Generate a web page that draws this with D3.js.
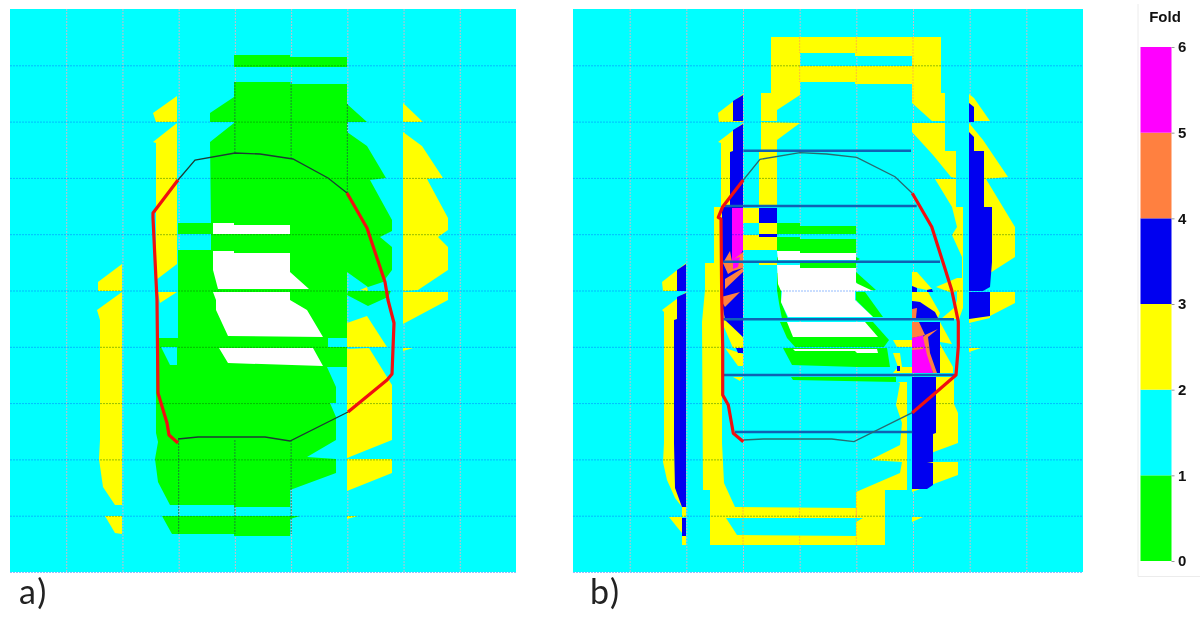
<!DOCTYPE html>
<html>
<head>
<meta charset="utf-8">
<script src="https://cdn.jsdelivr.net/npm/d3@7/dist/d3.min.js"></script>
<style>
html,body{margin:0;padding:0;background:#fff;}
svg{display:block;}
</style>
</head>
<body>
<svg id="c" width="1200" height="620"></svg>
<script>
// Fold classes for the colour bar
const foldValues = [0,1,2,3,4,5,6];
const foldNames = ["0-1","1-2","2-3","3-4","4-5","5-6"];
const foldTitle = "Fold";
const panelLabels = ["a)","b)"];

// ---------- Panel a: regions, in survey units along x / y of the panel ----------
const aGreen = [
 [[224,46],[280,46],[280,48],[337,48],[337,58],[224,58]],
 [[224,73],[280,73],[280,75],[337,75],[337,95],[357,113],[337,113],[337,123],[357,137],[376,169],[360,171],[382,211],[382,222],[370,228],[382,238],[382,261],[373,273],[358,278],[337,263],[337,329],[318,329],[318,338],[337,338],[337,358],[317,358],[326,378],[326,394],[320,394],[326,408],[326,431],[297,448],[326,450],[326,464],[280,481],[280,498],[224,498],[224,496],[160,496],[148,473],[145,450],[148,433],[146,424],[146,329],[168,329],[168,241],[201,241],[201,225],[168,225],[168,214],[201,214],[200,133],[224,114],[224,113],[200,113],[200,104],[224,88]],
 [[338,282],[381,282],[378,288],[358,297],[337,286]],
 [[152,507],[290,507],[280,510],[280,527],[224,527],[224,525],[162,525]]
];
const aCyan = [
 [[151,338],[167,338],[167,356],[160,356]]
];
const aWhite = [
 [[203,214],[224,214],[224,216],[280,216],[280,225],[203,225]],
 [[203,242],[224,242],[224,244],[280,244],[280,263],[299,280],[208,280],[203,261]],
 [[203,283],[280,283],[280,291],[297,301],[313,328],[218,327],[206,301],[206,291]],
 [[209,339],[303,339],[313,357],[282,356],[218,354]]
];
const aYellow = [
 [[112,255],[88,273],[88,282],[112,282]],
 [[112,283],[112,496],[105,496],[93,478],[89,450],[90,431],[90,311],[87,301]],
 [[95,507],[112,507],[112,525],[105,524]],
 [[167,87],[143,104],[146,113],[167,113]],
 [[167,114],[143,133],[146,134],[146,271],[167,255]],
 [[167,283],[148,283],[150,294]],
 [[393,94],[413,113],[393,113]],
 [[393,123],[412,137],[433,169],[417,170],[438,209],[438,221],[428,228],[438,238],[438,261],[408,281],[393,282]],
 [[393,283],[438,283],[438,291],[393,315]],
 [[393,339],[403,339],[393,342]],
 [[337,314],[357,307],[377,338],[337,338]],
 [[337,340],[359,339],[382,376],[382,431],[337,449]],
 [[337,450],[382,450],[382,464],[337,482]],
 [[337,507],[348,507],[337,510]],
 [[350,281],[357,278],[358,282]]
];
const aRed = [
 [[168,171],[143,204],[143,209],[146,271],[147,291],[148,384],[157,414],[159,426],[168,434]],
 [[338,403],[377,371],[382,365],[384,314],[378,291],[375,273],[370,258],[357,219],[337,184]]
];
const aDark = [
 [[168,430],[188,428],[255,428],[280,432],[338,403]],
 [[337,184],[318,169],[283,150],[250,145],[225,144],[185,151],[168,171]]
];
// segments of grid line that show dark over the green region: [gridIndex, from, to]
const aDarkGrid = [[4,73,144],[5,73,149],[6,95,184],[3,431,525],[4,431,525],[5,431,525]];

// ---------- Panel b ----------
const bYellow = [
 [[198,28],[227,28],[227,86],[204,101],[204,112],[188,112],[188,84],[198,84]],
 [[227,28],[339,28],[339,47],[282,47],[282,44],[227,44]],
 [[227,57],[339,57],[339,75],[282,75],[282,73],[227,73]],
 [[339,28],[368,28],[368,84],[372,84],[372,112],[359,112],[339,94]],
 [[188,113],[227,114],[204,131],[204,198],[186,198],[186,142],[188,141]],
 [[339,114],[372,114],[372,142],[383,142],[383,169],[378,168],[360,146],[339,123]],
 [[362,170],[383,170],[383,198],[390,198],[390,282],[384,282],[379,284],[363,278],[384,269],[389,269],[389,248],[379,226],[384,218],[379,198]],
 [[384,281],[390,281],[390,299],[386,310],[368,310],[382,298],[384,291]],
 [[339,263],[344,263],[359,280],[354,281],[344,279],[339,277]],
 [[339,283],[355,283],[367,304],[365,309],[347,293],[339,292]],
 [[367,313],[379,335],[367,333]],
 [[367,335],[380,358],[380,364],[367,364]],
 [[320,331],[339,331],[339,338],[324,338]],
 [[320,344],[327,344],[329,358],[339,358],[339,364],[320,364],[325,358]],
 [[339,368],[381,368],[381,395],[385,404],[385,434],[339,451]],
 [[339,453],[385,453],[385,466],[339,483]],
 [[339,508],[350,508],[339,513]],
 [[137,481],[130,481],[129,313],[132,281],[149,281],[149,434],[151,474],[162,498],[283,499],[283,483],[327,464],[329,453],[297,451],[327,436],[329,414],[323,396],[327,374],[325,373],[334,373],[334,481],[312,481],[312,536],[137,536]],
 [[141,198],[149,198],[149,282],[132,282],[132,254],[141,254]],
 [[170,85],[145,104],[146,113],[170,113]],
 [[170,114],[145,133],[148,134],[148,198],[170,198]],
 [[150,296],[157,311],[170,329],[170,339],[160,339],[151,318]],
 [[152,339],[170,345],[170,357],[165,357]],
 [[160,368],[170,368],[167,372]],
 [[170,199],[186,199],[186,214],[170,214]],
 [[186,214],[204,214],[204,225],[186,225]],
 [[170,226],[204,226],[204,241],[170,241]],
 [[186,254],[204,254],[204,256],[186,256]],
 [[113,254],[89,273],[90,282],[113,282]],
 [[113,283],[89,301],[91,303],[91,434],[90,453],[94,471],[102,489],[109,498],[113,498]],
 [[109,498],[113,498],[113,508],[109,508]],
 [[96,508],[109,508],[109,524],[104,518]],
 [[109,527],[113,527],[113,536],[109,536]],
 [[396,85],[401,89],[417,112],[396,112]],
 [[396,114],[410,131],[435,168],[413,170],[442,218],[442,248],[417,264],[410,282],[396,282]],
 [[396,283],[442,283],[442,294],[417,307],[417,309],[396,314]],
 [[396,339],[408,339],[396,343]]
];
const bCyan = [
 [[153,509],[290,509],[283,513],[283,527],[164,526]]
];
const bGreen = [
 [[204,214],[227,214],[227,217],[283,217],[283,225],[204,225]],
 [[204,228],[227,228],[227,230],[283,230],[283,244],[227,244],[227,242],[204,242]],
 [[227,254],[283,254],[283,260],[227,260]],
 [[204,264],[208,264],[208,281],[208,293],[215,310],[209,310],[206,294],[204,281]],
 [[283,263],[303,281],[290,282],[283,273]],
 [[283,283],[292,283],[310,308],[300,308],[283,291]],
 [[207,313],[300,313],[316,331],[311,338],[222,338],[214,329]],
 [[210,339],[314,339],[317,358],[284,358],[219,356]],
 [[218,368],[323,368],[323,373],[220,371]],
 [[204,248],[208,250],[204,252]],
 [[283,248],[287,250],[283,252]]
];
const bWhite = [
 [[204,242],[227,242],[227,244],[283,244],[283,251],[205,251]],
 [[204,256],[227,256],[227,259],[283,259],[283,274],[300,282],[208,282],[205,275]],
 [[209,281],[282,281],[282,291],[300,308],[215,308],[208,293]],
 [[214,313],[292,313],[305,328],[220,328]],
 [[220,340],[304,340],[305,344],[284,344],[282,342],[222,342]]
];
const bBlue = [
 [[170,86],[160,92],[160,112],[170,112]],
 [[170,115],[160,121],[160,142],[157,143],[157,198],[170,198]],
 [[149,198],[170,198],[170,328],[152,311],[149,294]],
 [[163,339],[170,339],[170,344],[165,344]],
 [[186,199],[204,199],[204,214],[186,214]],
 [[186,225],[204,225],[204,228],[186,228]],
 [[113,255],[104,261],[104,282],[113,282]],
 [[113,284],[104,288],[104,310],[101,311],[101,434],[102,479],[109,498],[113,498]],
 [[109,509],[113,509],[113,527],[109,527]],
 [[396,94],[401,98],[401,113],[396,113]],
 [[396,123],[401,128],[401,142],[411,142],[411,198],[419,198],[419,253],[417,278],[410,282],[396,282]],
 [[396,283],[417,283],[417,307],[396,310]],
 [[339,368],[363,368],[363,424],[360,425],[360,453],[354,453],[360,454],[360,476],[354,480],[339,480]],
 [[339,277],[344,279],[344,283],[339,283]],
 [[354,281],[359,280],[360,283],[354,283]],
 [[339,292],[347,293],[362,303],[365,309],[339,309]],
 [[339,313],[367,313],[367,364],[339,364]],
 [[324,357],[327,357],[327,362],[324,362]]
];
const bMagenta = [
 [[159,199],[170,199],[170,241],[159,261]],
 [[339,329],[350,326],[356,346],[360,364],[339,364]]
];
const bOrange = [
 [[150,254],[157,242],[159,252],[170,243],[170,259],[160,262],[155,265]],
 [[152,280],[152,270],[170,259],[170,263]],
 [[148,288],[167,283],[152,298],[149,293]],
 [[339,300],[344,299],[343,309],[339,309]],
 [[339,313],[346,313],[352,326],[339,329]],
 [[339,339],[350,338],[350,340],[339,341]],
 [[352,326],[365,320],[355,328],[357,344],[364,364],[360,364],[354,346],[350,328]]
];
const bMagentaTop = [
 [[160,250],[167,248],[165,258],[160,260]]
];
const bLevels = [[141.7,170.3,338],[197,152,343.7],[252.7,150.3,367],[310.3,150.3,381],[366,151,382],[423,162,339.3]];
const bRed = [
 [[170.3,171],[149.7,197.7],[145.3,208.3],[148,210],[148.7,287.7],[149.7,337.7],[149.7,386],[155.3,396],[160.3,424.3],[170.3,432.7]],
 [[339.3,403.7],[362,384.3],[383,366],[385.3,337.7],[385.3,312.7],[378.7,281],[370.3,254.3],[358.7,217.7],[339.3,184.3]]
];
const bDark = [
 [[170.3,431],[190.3,430],[258.7,430],[281,432.7],[339.3,403.7]],
 [[339.3,184.3],[322,167.7],[283.7,148.3],[253.7,145],[227,143.7],[187,150.3],[170.3,171]]
];
// grid segments that show orange over yellow: [gridIndex, from, to]
const bOrangeGrid = [[4,28,44],[4,57,73],[5,28,44],[5,57,73],[6,28,94],[3,498,536],[4,499,509],[4,527,536],[5,499,509],[5,483,536]];

const colors = {green:"#00ff00",cyan:"#00ffff",yellow:"#ffff00",blue:"#0000f0",orange:"#ff8040",magenta:"#ff00ff",white:"#ffffff"};
const foldColors = [colors.green,colors.cyan,colors.yellow,colors.blue,colors.orange,colors.magenta];

const svg = d3.select("#c");

function drawPanel(opt){
  const x = d3.scaleLinear().domain([0,opt.w]).range([opt.left,opt.left+opt.w]);
  const y = d3.scaleLinear().domain([0,563]).range([9,572]);
  const g = svg.append("g");
  const line = d3.line().x(d=>x(d[0])).y(d=>y(d[1]));
  const cellX = opt.w/9, cellY = 563/10;
  g.append("rect").attr("x",x(0)).attr("y",y(0)).attr("width",x(opt.w)-x(0)).attr("height",y(563)-y(0)).attr("fill",colors.cyan);

  // vertical grid under the regions
  const vAxis = d3.axisBottom(x).tickValues(d3.range(1,9).map(i=>i*cellX)).tickSize(-563).tickFormat("");
  const vg = g.append("g").attr("transform",`translate(0,${y(563)})`).call(vAxis);
  vg.select(".domain").remove();
  vg.selectAll("line").attr("stroke","#c4bccb").attr("stroke-width",1).attr("stroke-dasharray","2,1");

  opt.layers.forEach(([polys,col])=>{
    g.append("g").selectAll("path").data(polys).join("path")
      .attr("d",d=>line(d)+"Z").attr("fill",col).attr("stroke","none");
  });

  // grid segments over regions
  g.append("g").selectAll("line").data(opt.gridSegs).join("line")
    .attr("x1",d=>x(d[0]*cellX)).attr("x2",d=>x(d[0]*cellX))
    .attr("y1",d=>y(d[1])).attr("y2",d=>y(d[2]))
    .attr("stroke",opt.gridSegColor).attr("stroke-opacity",0.8).attr("stroke-width",1).attr("stroke-dasharray","2,1");

  // horizontal grid above the regions
  const hAxis = d3.axisLeft(y).tickValues(d3.range(1,11).map(i=>i*cellY)).tickSize(-opt.w).tickFormat("");
  const hg = g.append("g").attr("transform",`translate(${x(0)},0)`).call(hAxis);
  hg.select(".domain").remove();
  hg.selectAll("line").attr("stroke","#78aaff").attr("stroke-opacity",0.8).attr("stroke-width",1).attr("stroke-dasharray","2,1")
    .style("mix-blend-mode","multiply");

  if(opt.levels){
    g.append("g").selectAll("line").data(opt.levels).join("line")
      .attr("x1",d=>x(d[1])).attr("x2",d=>x(d[2])).attr("y1",d=>y(d[0])).attr("y2",d=>y(d[0]))
      .attr("stroke","#0f62b4").attr("stroke-width",2.6);
  }
  g.append("g").selectAll("path").data(opt.dark).join("path")
    .attr("d",line).attr("fill","none").attr("stroke",opt.darkColor).attr("stroke-width",1.3);
  g.append("g").selectAll("path").data(opt.red).join("path")
    .attr("d",line).attr("fill","none").attr("stroke","#f01010").attr("stroke-width",3.2).attr("stroke-linejoin","round");
}

drawPanel({left:10,w:506,
  layers:[[aGreen,colors.green],[aCyan,colors.cyan],[aWhite,colors.white],[aYellow,colors.yellow]],
  gridSegs:aDarkGrid,gridSegColor:"#1a6a3a",dark:aDark,darkColor:"#1c3c34",red:aRed});
drawPanel({left:573,w:510,
  layers:[[bYellow,colors.yellow],[bCyan,colors.cyan],[bGreen,colors.green],[bWhite,colors.white],[bBlue,colors.blue],[bMagenta,colors.magenta],[bOrange,colors.orange],[bMagentaTop,colors.magenta]],
  gridSegs:bOrangeGrid,gridSegColor:"#ffb040",dark:bDark,darkColor:"#2a6a70",red:bRed,levels:bLevels});

// panel labels
svg.selectAll("text.pl").data(panelLabels).join("text").attr("class","pl")
  .attr("x",(d,i)=>[19,590][i]).attr("y",604)
  .attr("font-family","Lato, 'Open Sans', sans-serif").attr("font-size",34).attr("letter-spacing",2).attr("fill","#222").text(d=>d);

// colour bar
const legend = svg.append("g");
const fy = d3.scaleLinear().domain([0,6]).range([561,47]);
legend.append("path").attr("d","M1138,4V576.5H1200").attr("fill","none").attr("stroke","#ececec");
legend.selectAll("rect").data(foldColors).join("rect")
  .attr("x",1140.5).attr("width",31).attr("y",(d,i)=>fy(i+1)).attr("height",(d,i)=>fy(i)-fy(i+1)).attr("fill",d=>d)
  .append("title").text((d,i)=>foldNames[i]);
const ax = d3.axisRight(fy).tickValues(foldValues).tickSize(3).tickFormat(d3.format("d"));
const ag = legend.append("g").attr("transform","translate(1171.5,0)").call(ax);
ag.select(".domain").remove();
ag.selectAll("line").attr("stroke","#999");
ag.selectAll("text").attr("x",6.5).attr("font-family","'Liberation Sans',Arial,sans-serif").attr("font-weight","bold").attr("font-size",15).attr("fill","#111");
legend.append("text").attr("x",1165).attr("y",22).attr("text-anchor","middle")
  .attr("font-family","'Liberation Sans',Arial,sans-serif").attr("font-weight","bold").attr("font-size",15).attr("fill","#111").text(foldTitle);
</script>
</body>
</html>
